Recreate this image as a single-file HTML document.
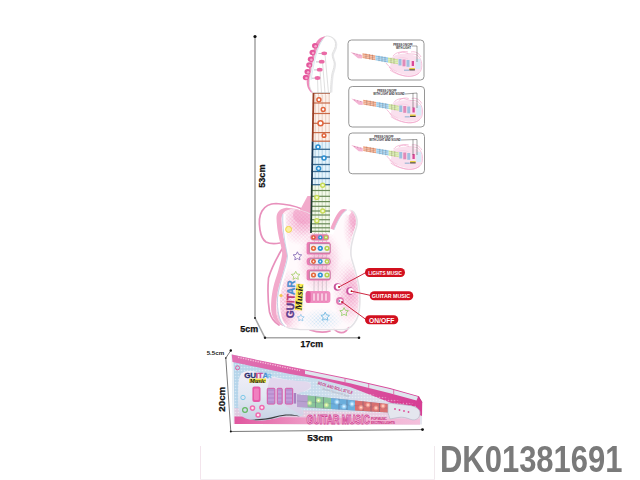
<!DOCTYPE html>
<html><head><meta charset="utf-8">
<style>
html,body{margin:0;padding:0;background:#fff;}
body{width:640px;height:480px;overflow:hidden;position:relative;font-family:"Liberation Sans",sans-serif;}
svg{position:absolute;left:0;top:0;}
.dk{position:absolute;left:440px;top:440px;font-family:"Liberation Sans",sans-serif;font-weight:bold;font-size:36px;color:#7a7a7a;letter-spacing:0px;line-height:40px;white-space:nowrap;transform-origin:0 0;transform:scaleX(0.86);}
</style></head>
<body>
<svg width="640" height="480" viewBox="0 0 640 480">
<defs>
  <pattern id="dots" width="3" height="3" patternUnits="userSpaceOnUse">
    <circle cx="1.5" cy="1.5" r="0.9" fill="#f2a9cc"/>
  </pattern>
  <linearGradient id="neckg" x1="0" y1="0" x2="0" y2="1">
    <stop offset="0" stop-color="#e8825c"/>
    <stop offset="0.36" stop-color="#e8825c"/>
    <stop offset="0.40" stop-color="#6fb4e6"/>
    <stop offset="0.62" stop-color="#6fb4e6"/>
    <stop offset="0.70" stop-color="#b8d87a"/>
    <stop offset="1" stop-color="#c9e07a"/>
  </linearGradient>
  <radialGradient id="rg1" cx="0.5" cy="0.5" r="0.5">
    <stop offset="0" stop-color="#fff" stop-opacity="1"/>
    <stop offset="1" stop-color="#fff" stop-opacity="0"/>
  </radialGradient>
</defs>

<!-- dimension lines main guitar -->
<g stroke="#a8a8a8" stroke-width="1.6" fill="none">
  <line x1="255" y1="37" x2="255" y2="318"/>
  <line x1="255" y1="318" x2="265" y2="337.8"/>
  <line x1="265" y1="337.8" x2="359" y2="337.8"/>
</g>
<circle cx="255" cy="36.5" r="1.6" fill="#111"/>
<circle cx="359" cy="337.8" r="1.3" fill="#111"/>
<circle cx="255" cy="318" r="1" fill="#222"/>
<circle cx="265" cy="337.8" r="1.2" fill="#222"/>
<text x="0" y="0" transform="translate(265.3,187.8) rotate(-90)" font-family="Liberation Sans" font-weight="bold" font-size="8.6" fill="#111" stroke="#111" stroke-width="0.25" textLength="23.4" lengthAdjust="spacingAndGlyphs">53cm</text>
<text x="240.3" y="332.3" font-family="Liberation Sans" font-weight="bold" font-size="8.4" fill="#111" stroke="#111" stroke-width="0.25" textLength="17.9" lengthAdjust="spacingAndGlyphs">5cm</text>
<text x="300.5" y="347.3" font-family="Liberation Sans" font-weight="bold" font-size="8.2" fill="#111" stroke="#111" stroke-width="0.25" textLength="22.6" lengthAdjust="spacingAndGlyphs">17cm</text>

<!-- strap loop -->
<g stroke="#e890bc" stroke-width="1.7" fill="none" stroke-linecap="round" stroke-linejoin="round">
<path d="M302,209 C295,206 285,204 276,203.5 C270,203.5 265,206 262,211 C259,216 259,224 260,230 C261,236 263,240 266,242 C270,244 275,244 280,243"/>
<path d="M282,249 C278,256 272,266 268.5,278 C267.5,290 268,302 269.5,312 C271,318 274,322 279,325"/>
<path d="M310,330 C316,332 324,333 330,331"/>
<path d="M334,329 C338,333 342,334 346,331 C348,329 349,327 348,324"/>
</g>
<!-- body side band (pink) -->
<defs>
<path id="faceShape" d="M310.0,214.0 C308.8,213.5 305.3,211.7 303.0,211.0 C300.7,210.3 298.1,210.1 296.0,209.8 C293.9,209.5 292.1,209.1 290.3,209.4 C288.5,209.7 286.4,210.2 285.0,211.5 C283.6,212.8 282.2,214.4 281.7,217.0 C281.2,219.6 281.7,223.7 282.0,227.0 C282.3,230.3 282.8,233.2 283.5,237.0 C284.2,240.8 285.9,246.5 286.5,250.0 C287.1,253.5 287.4,254.2 286.8,258.0 C286.2,261.8 284.4,268.0 283.0,273.0 C281.6,278.0 279.6,283.2 278.5,288.0 C277.4,292.8 276.6,297.7 276.3,302.0 C276.0,306.3 275.9,310.7 276.5,314.0 C277.1,317.3 278.2,319.8 280.0,322.0 C281.8,324.2 283.7,325.9 287.0,327.0 C290.3,328.1 297.8,328.4 300.0,328.7 L340.0,328.7 C341.2,328.6 344.8,329.0 347.0,328.0 C349.2,327.0 351.4,324.7 353.0,322.5 C354.6,320.3 355.9,318.2 356.8,315.0 C357.7,311.8 358.5,307.9 358.6,303.0 C358.8,298.1 358.6,291.3 357.7,285.4 C356.8,279.5 354.6,272.6 353.3,267.7 C352.0,262.8 350.6,259.6 350.0,256.0 C349.4,252.4 349.6,249.5 350.0,246.0 C350.4,242.5 351.6,238.5 352.5,235.0 C353.4,231.5 355.0,228.0 355.5,225.0 C356.0,222.0 356.0,219.4 355.3,217.0 C354.6,214.6 353.1,211.6 351.5,210.5 C349.9,209.4 347.9,209.8 346.0,210.5 C344.1,211.2 341.8,212.8 340.0,214.5 C338.2,216.2 336.5,218.9 335.0,221.0 C333.5,223.1 331.7,226.0 331.0,227.0 L310,227 Z"/>
<clipPath id="faceclip"><use href="#faceShape"/></clipPath>
<pattern id="pd2" width="2.6" height="2.6" patternUnits="userSpaceOnUse" patternTransform="rotate(45)">
  <circle cx="1.3" cy="1.3" r="1.05" fill="#f09ac4"/>
</pattern>
<pattern id="bd2" width="2.6" height="2.6" patternUnits="userSpaceOnUse" patternTransform="rotate(45)">
  <circle cx="1.3" cy="1.3" r="0.9" fill="#a8d4f0"/>
</pattern>
<mask id="mPink" maskUnits="userSpaceOnUse" x="260" y="190" width="120" height="150">
  <ellipse cx="302" cy="222" rx="24" ry="24" fill="url(#rg1)"/>
  <ellipse cx="355" cy="228" rx="12" ry="26" fill="url(#rg1)"/>
  <ellipse cx="350" cy="292" rx="18" ry="34" fill="url(#rg1)"/>
  <ellipse cx="288" cy="302" rx="18" ry="34" fill="url(#rg1)"/>
  <ellipse cx="320" cy="262" rx="24" ry="34" fill="url(#rg1)" opacity="0.7"/>
</mask>
<mask id="mBlue" maskUnits="userSpaceOnUse" x="260" y="190" width="120" height="150">
  <ellipse cx="322" cy="320" rx="22" ry="12" fill="url(#rg1)"/>
</mask>
<mask id="mTint" maskUnits="userSpaceOnUse" x="260" y="190" width="120" height="150">
  <ellipse cx="306" cy="218" rx="20" ry="18" fill="url(#rg1)"/>
  <ellipse cx="305" cy="215" rx="12" ry="9" fill="#fff"/>
  <ellipse cx="355" cy="222" rx="8" ry="16" fill="url(#rg1)"/>
  <ellipse cx="354" cy="218" rx="5" ry="8" fill="#fff" opacity="0.6"/>
  <ellipse cx="352" cy="292" rx="12" ry="26" fill="url(#rg1)" opacity="0.7"/>
  <ellipse cx="282" cy="320" rx="12" ry="14" fill="url(#rg1)"/>
  <ellipse cx="320" cy="262" rx="20" ry="32" fill="url(#rg1)" opacity="0.7"/>
</mask>
</defs>
<clipPath id="leftclip"><rect x="250" y="190" width="61" height="150"/></clipPath>
<use href="#faceShape" transform="translate(-5,-1.5)" fill="#f2aacb" clip-path="url(#leftclip)"/>
<path d="M300,210 L307.5,196 L311,196 L311,216 Z" fill="#f2aacb"/>

<!-- body front (white) -->
<use href="#faceShape" transform="translate(1.2,0.8)" fill="none" stroke="#e4e2e6" stroke-width="1.6"/>
<use href="#faceShape" fill="#fffafc"/>
<g clip-path="url(#faceclip)">
  <rect x="270" y="200" width="100" height="140" fill="#f6bcd8" mask="url(#mTint)"/>
  <rect x="270" y="200" width="100" height="140" fill="url(#pd2)" mask="url(#mPink)"/>
  <rect x="270" y="200" width="100" height="140" fill="url(#bd2)" mask="url(#mBlue)"/>
</g>
<path d="M284.5,214 C283.5,230 287.5,248 289,256 C288.5,266 280.5,282 279,298 C278.5,310 280.5,322 286.5,326.5" stroke="#ffffff" stroke-width="2.2" fill="none" clip-path="url(#faceclip)"/>
<path d="M282.8,214 C282,230 286,248 287.5,256 C287,266 279,282 277.5,298 C277,310 279,322 285,326.5" stroke="#c0d4e6" stroke-width="0.9" fill="none"/>
<path d="M331,234 C334,226 338,218 342,214 C345,211.5 348,212 350,214" stroke="#ffffff" stroke-width="4" fill="none" clip-path="url(#faceclip)"/>
<path d="M330.3,228.5 C333,222 336.5,213.5 341,209.8 C343,208.8 345,209 347,209.8 C343.5,212 340.5,216 338,221 C336.5,224 335,227 334,230 Z" fill="#f2a6c8"/>
<path d="M334,230 C335,227 336.5,224 338,221 C340.5,216 343.5,212 347,209.8" stroke="#c8dce8" stroke-width="0.8" fill="none"/>
<!-- decorations -->
<g fill="none" stroke-width="0.9" stroke-linejoin="round">
  <circle cx="288.6" cy="229.4" r="3" fill="#fbf0a0" stroke="#f0d448" stroke-width="1"/>
  <path id="star" d="M0,-4.5 L1.3,-1.8 L4.3,-1.4 L2.1,0.7 L2.6,3.6 L0,2.2 L-2.6,3.6 L-2.1,0.7 L-4.3,-1.4 L-1.3,-1.8 Z" transform="translate(297.4,256.3)"/>
  <use href="#star" transform="translate(-1.7,19.5)" stroke="#a8d070"/>
  <use href="#star" stroke="#8a70b8"/>
  <use href="#star" transform="translate(27.8,60.4)" stroke="#70b8e0"/>
  <use href="#star" transform="translate(46.7,55.8)" stroke="#98d070"/>
  <use href="#star" transform="translate(300.8,318) scale(0.8) translate(-297.4,-256.3)" stroke="#80c0e8"/>
</g>
<circle cx="281" cy="295.5" r="1.6" fill="#f4c850"/>
<!-- GUITAR Music text -->
<text transform="translate(293.8,318.3) rotate(-88)" font-family="Liberation Sans" font-weight="bold" font-size="11" stroke-width="0.35" textLength="38" lengthAdjust="spacingAndGlyphs"><tspan fill="#5a3a8c" stroke="#5a3a8c">GU</tspan><tspan fill="#c23c72" stroke="#c23c72">IT</tspan><tspan fill="#4c8ccc" stroke="#4c8ccc">AR</tspan></text>
<g transform="translate(301.8,310.5) rotate(-87)">
  <path d="M0,-7.2 L26.5,-6.8 L26.5,0.3 L0,0.3 Z" fill="#f6ea40" opacity="0.9"/>
  <text x="0.3" y="-0.4" font-family="Liberation Serif" font-weight="bold" font-style="italic" font-size="9.5" fill="#1a1a1a" textLength="26" lengthAdjust="spacingAndGlyphs">Music</text>
</g>

<!-- neck -->
<path d="M313,92.5 L330,92.5 L330,141.5 L312.13,141.5 Z" fill="#fdf1ea"/>
<path d="M312.13,141.5 L330,141.5 L330,185 L311.35,185 Z" fill="#e6f4fc"/>
<path d="M311.35,185 L330,185 L330,233 L310.5,233 Z" fill="#f4f9ea"/>
<g stroke="#e2c4b8" stroke-width="0.8">
<line x1="315.2" y1="92.5" x2="315.2" y2="141.5"/>
<line x1="318.7" y1="92.5" x2="318.7" y2="141.5"/>
<line x1="322.2" y1="92.5" x2="322.2" y2="141.5"/>
<line x1="325.7" y1="92.5" x2="325.7" y2="141.5"/>
<line x1="329.2" y1="92.5" x2="329.2" y2="141.5"/>
</g>
<g stroke="#a8cce0" stroke-width="0.8">
<line x1="315.2" y1="141.5" x2="315.2" y2="185"/>
<line x1="318.7" y1="141.5" x2="318.7" y2="185"/>
<line x1="322.2" y1="141.5" x2="322.2" y2="185"/>
<line x1="325.7" y1="141.5" x2="325.7" y2="185"/>
<line x1="329.2" y1="141.5" x2="329.2" y2="185"/>
</g>
<g stroke="#c0d0b0" stroke-width="0.8">
<line x1="315.2" y1="185" x2="315.2" y2="233"/>
<line x1="318.7" y1="185" x2="318.7" y2="233"/>
<line x1="322.2" y1="185" x2="322.2" y2="233"/>
<line x1="325.7" y1="185" x2="325.7" y2="233"/>
<line x1="329.2" y1="185" x2="329.2" y2="233"/>
</g>
<g stroke="#c86a48" stroke-width="1.2">
<line x1="312.99" y1="92.8" x2="330" y2="92.8"/>
<line x1="312.81" y1="103" x2="330" y2="103"/>
<line x1="312.63" y1="113.5" x2="330" y2="113.5"/>
<line x1="312.45" y1="123.3" x2="330" y2="123.3"/>
<line x1="312.29" y1="132.6" x2="330" y2="132.6"/>
<line x1="312.13" y1="141.2" x2="330" y2="141.2"/>
</g>
<g stroke="#3a6a90" stroke-width="1.3">
<line x1="311.99" y1="149.3" x2="330" y2="149.3"/>
<line x1="311.85" y1="157" x2="330" y2="157"/>
<line x1="311.72" y1="164.5" x2="330" y2="164.5"/>
<line x1="311.59" y1="171.5" x2="330" y2="171.5"/>
<line x1="311.47" y1="178.5" x2="330" y2="178.5"/>
<line x1="311.36" y1="184.7" x2="330" y2="184.7"/>
</g>
<g stroke="#6a8a58" stroke-width="1.2">
<line x1="311.26" y1="190.5" x2="330" y2="190.5"/>
<line x1="311.15" y1="196.3" x2="330" y2="196.3"/>
<line x1="311.06" y1="201.6" x2="330" y2="201.6"/>
<line x1="310.98" y1="206.3" x2="330" y2="206.3"/>
<line x1="310.89" y1="211" x2="330" y2="211"/>
<line x1="310.82" y1="215" x2="330" y2="215"/>
<line x1="310.74" y1="219.7" x2="330" y2="219.7"/>
<line x1="310.66" y1="223.8" x2="330" y2="223.8"/>
<line x1="310.59" y1="227.8" x2="330" y2="227.8"/>
<line x1="310.53" y1="231.3" x2="330" y2="231.3"/>
</g>
<circle cx="318.9" cy="99.7" r="2.0" fill="#fff" stroke="#e0643c" stroke-width="1.5"/>
<circle cx="323.2" cy="109.5" r="1.9" fill="#fff" stroke="#e0643c" stroke-width="1.5"/>
<circle cx="320.5" cy="123.2" r="2.5" fill="#fff" stroke="#e0643c" stroke-width="1.5"/>
<circle cx="324" cy="135.5" r="1.8" fill="#fff" stroke="#e0643c" stroke-width="1.5"/>
<circle cx="318" cy="147" r="2.0" fill="#e8f6ff" stroke="#2a8ed0" stroke-width="1.5"/>
<circle cx="324" cy="158" r="2.0" fill="#e8f6ff" stroke="#2a8ed0" stroke-width="1.5"/>
<circle cx="318.6" cy="168.6" r="2.0" fill="#e8f6ff" stroke="#2a8ed0" stroke-width="1.5"/>
<circle cx="322.7" cy="185.3" r="2" fill="#f4fad0" stroke="#c8dc58" stroke-width="1.4"/>
<circle cx="316.8" cy="197.5" r="2" fill="#f4fad0" stroke="#c8dc58" stroke-width="1.4"/>
<circle cx="322.7" cy="211" r="2" fill="#f4fad0" stroke="#c8dc58" stroke-width="1.4"/>
<circle cx="316.8" cy="220.8" r="2" fill="#f4fad0" stroke="#c8dc58" stroke-width="1.4"/>
<path d="M313.5,92.5 L312.63,141.5" stroke="#9a4026" stroke-width="1.8"/>
<path d="M312.63,141.5 L311.85,185" stroke="#1a3a58" stroke-width="1.8"/>
<path d="M311.85,185 L311,233" stroke="#203a30" stroke-width="1.8"/>
<path d="M313,92.8 L330,92.8" stroke="#8a3a20" stroke-width="1.3"/>
<g fill="#fff"><circle cx="316" cy="94.6" r="0.6"/><circle cx="319.5" cy="94.6" r="0.6"/><circle cx="323" cy="94.6" r="0.6"/><circle cx="326.5" cy="94.6" r="0.6"/></g>

<!-- headstock -->
<path d="M324,36.5 C318,38 316,42 314,48 C311,58 309,68 307,78 C306,84 307.5,89 311,92.5 L313,92.5 C309.5,89 308.8,84 309.8,78 C313,60 317,44 325.8,36.1 Z" fill="#ee8cbc"/>
<path d="M326.8,36.9 C331,36.3 336,38.8 336.5,44.3 C337,48.8 334,51.8 333.2,54.8 C332.8,58.8 335.5,61.8 335.3,64.8 C335,69.8 333,72.8 332.8,75.8 C332.3,80.8 331.6,84.8 331.6,92.5" fill="none" stroke="#e8e8ea" stroke-width="1.6"/>
<path d="M325.8,36.1 C330,35.5 335,38 335.5,43.5 C336,48 333,51 332.2,54 C331.8,58 334.5,61 334.3,64 C334,69 332,72 331.8,75 C331.3,80 330.6,84 330.6,92.5 L313,92.5 C309.5,89 308.8,84 309.8,78 C313,60 317,44 325.8,36.1 Z" fill="#fff" stroke="#dcdcdc" stroke-width="0.9"/>
<path d="M311,80 C314,62 317,47 323,39" stroke="#cfe0ec" stroke-width="0.7" fill="none"/>
<g stroke="#b8b8b8" stroke-width="0.45" fill="none">
  <path d="M325,54 L328.5,93"/><path d="M322.5,62 L325,93"/><path d="M320,70 L321.5,93"/><path d="M317.5,78 L318,93"/>
</g>
<g fill="#e4579c">
  <ellipse cx="315" cy="45.8" rx="3" ry="2.7"/><ellipse cx="312.5" cy="52.5" rx="3" ry="2.7"/><ellipse cx="310.8" cy="59.2" rx="3" ry="2.7"/>
  <ellipse cx="309.2" cy="65" rx="3" ry="2.7"/><ellipse cx="307.5" cy="71.7" rx="3" ry="2.7"/><ellipse cx="305.8" cy="77.5" rx="3" ry="2.7"/>
</g>
<g fill="#f5a6cc">
  <circle cx="315.6" cy="46.3" r="1.3"/><circle cx="313.1" cy="53" r="1.3"/><circle cx="311.4" cy="59.7" r="1.3"/>
  <circle cx="309.8" cy="65.5" r="1.3"/><circle cx="308.1" cy="72.2" r="1.3"/><circle cx="306.4" cy="78" r="1.3"/>
</g>
<g fill="#ea6aa6">
  <ellipse cx="324.2" cy="53.3" rx="2.9" ry="1.9"/><ellipse cx="321.7" cy="61.7" rx="2.9" ry="1.9"/>
  <ellipse cx="319.7" cy="69.7" rx="2.9" ry="1.9"/><ellipse cx="317.5" cy="78" rx="2.9" ry="1.9"/>
</g>
<g stroke="#9a9aa8" stroke-width="0.6">
  <line x1="318.5" y1="53.5" x2="321.5" y2="53.5"/><line x1="316" y1="61.9" x2="319" y2="61.9"/>
  <line x1="314" y1="69.9" x2="317" y2="69.9"/><line x1="311.8" y1="78.2" x2="314.8" y2="78.2"/>
</g>

<!-- strings -->
<g stroke="#b0a8b0" stroke-width="0.5">
  <line x1="314.5" y1="233" x2="314" y2="292"/><line x1="318.5" y1="233" x2="318.2" y2="292"/>
  <line x1="322.5" y1="233" x2="322.3" y2="292"/><line x1="326.3" y1="233" x2="326.3" y2="292"/>
</g>
<!-- pickups -->
<g>
  <rect x="310.6" y="234.6" width="18.3" height="5.7" rx="2.8" fill="#ecd6e0" stroke="#d8a0bc" stroke-width="0.6"/>
  <rect x="306.6" y="242" width="24" height="12.6" rx="2.2" fill="#ea7cb4"/>
  <rect x="309.4" y="243.7" width="20.6" height="9.2" rx="1" fill="#f4eef2" stroke="#a86a8a" stroke-width="0.7"/>
  <rect x="306.6" y="257.5" width="24" height="8" rx="3.5" fill="#ea7cb4"/>
  <rect x="309.4" y="258.6" width="20.6" height="5.8" rx="2.5" fill="#f4eef2" stroke="#a86a8a" stroke-width="0.7"/>
  <rect x="306.6" y="269.5" width="24" height="11" rx="2.2" fill="#ea7cb4"/>
  <rect x="309.4" y="271" width="20.6" height="8" rx="1" fill="#f4eef2" stroke="#a86a8a" stroke-width="0.7"/>
</g>
<g>
  <rect x="310.6" y="234.6" width="18.3" height="5.7" rx="2.8" fill="#e27aa8"/>
  <circle cx="313.5" cy="237.4" r="2.2" fill="#e05a34"/><circle cx="320.3" cy="237.4" r="2.2" fill="#2a92d4"/><circle cx="326" cy="237.4" r="2.2" fill="#b4d050"/>
  <circle cx="313.5" cy="248.3" r="2.6" fill="#e46a3c"/><circle cx="320.3" cy="248.3" r="2.6" fill="#2a92d4"/><circle cx="327" cy="248.3" r="2.6" fill="#b4d050"/>
  <circle cx="313.5" cy="261.5" r="2.4" fill="#e05a34"/><circle cx="320.3" cy="261.5" r="2.4" fill="#2a92d4"/><circle cx="327" cy="261.5" r="2.4" fill="#b4d050"/>
  <circle cx="313.5" cy="275" r="2.6" fill="#e46a3c"/><circle cx="320.3" cy="275" r="2.6" fill="#2a92d4"/><circle cx="327" cy="275" r="2.6" fill="#b4d050"/>
</g>
<g fill="#fff" opacity="0.9">
  <circle cx="313.5" cy="237.4" r="0.8"/><circle cx="320.3" cy="237.4" r="0.8"/><circle cx="326" cy="237.4" r="0.8"/>
  <circle cx="313.5" cy="248.3" r="1"/><circle cx="320.3" cy="248.3" r="1"/><circle cx="327" cy="248.3" r="1"/>
  <circle cx="313.5" cy="261.5" r="0.9"/><circle cx="320.3" cy="261.5" r="0.9"/><circle cx="327" cy="261.5" r="0.9"/>
  <circle cx="313.5" cy="275" r="1"/><circle cx="320.3" cy="275" r="1"/><circle cx="327" cy="275" r="1"/>
</g>
<!-- bridge -->
<rect x="305.7" y="290.9" width="24.7" height="12" rx="3" fill="#f08cc0"/>
<rect x="305.7" y="290.9" width="5" height="12" rx="2.5" fill="#e0609e"/>
<g fill="#f8c8e0" stroke="#e070a8" stroke-width="0.5">
  <rect x="312.5" y="293" width="3" height="8" rx="1"/><rect x="316.5" y="293" width="3" height="8" rx="1"/>
  <rect x="320.5" y="293" width="3" height="8" rx="1"/><rect x="324.5" y="293" width="3" height="8" rx="1"/>
</g>

<!-- knobs -->
<g>
  <circle cx="337.5" cy="287" r="3.8" fill="#c8509a"/><circle cx="338.5" cy="286.8" r="2.8" fill="#fff"/>
  <circle cx="350" cy="291.1" r="3.8" fill="#c8509a"/><circle cx="351" cy="290.9" r="2.8" fill="#fff"/>
  <circle cx="340" cy="301.1" r="4" fill="#e27ab2"/><circle cx="340.5" cy="301.1" r="2.2" fill="#fff"/><circle cx="339.3" cy="301.1" r="1" fill="#7090b8"/>
  <circle cx="339" cy="287" r="0.9" fill="#b01020"/><circle cx="351.5" cy="291.2" r="0.9" fill="#b01020"/><circle cx="342" cy="302" r="0.9" fill="#b01020"/>
</g>

<!-- label lines -->
<g stroke="#c8102e" stroke-width="0.9">
  <line x1="339" y1="287" x2="366" y2="272.5"/>
  <line x1="351.5" y1="291.2" x2="371" y2="295.5"/>
  <line x1="342" y1="302" x2="366" y2="319.5"/>
</g>
<g fill="#d2101e">
  <rect x="365" y="268" width="40" height="9" rx="4.5"/>
  <rect x="369.7" y="291.3" width="43.6" height="9" rx="4.5"/>
  <rect x="365" y="315.3" width="33.3" height="9" rx="4.5"/>
</g>
<g font-family="Liberation Sans" font-weight="bold" fill="#fff">
  <text x="368.3" y="274.8" font-size="5.4" textLength="33.7" lengthAdjust="spacingAndGlyphs">LIGHTS MUSIC</text>
  <text x="371.7" y="298.2" font-size="5.4" textLength="38.5" lengthAdjust="spacingAndGlyphs">GUITAR MUSIC</text>
  <text x="369" y="322.5" font-size="6.8" textLength="25.4" lengthAdjust="spacingAndGlyphs">ON/OFF</text>
</g>

<!-- small boxes -->
<g fill="#fff" stroke="#8a8a8a" stroke-width="0.9">
  <rect x="348" y="40" width="76" height="40" rx="3.5"/>
  <rect x="348.75" y="86.5" width="75.75" height="40.5" rx="3.5"/>
  <rect x="348.75" y="133" width="75.75" height="40.75" rx="3.5"/>
</g>
<g id="mini">
  <g fill="none" stroke="#f2a6cc" stroke-width="0.7">
    <path d="M393,56 C396,52 402,51 406,53 C410,55 413,53 417,55 C421,58 423,64 421,70 C419,75 412,77 405,76 C399,75 394,73 390,70"/>
    <path d="M395,60 C399,57 404,57 408,59"/>
    <path d="M389,67 C392,71 397,74 403,75.5 C409,77 415,76.5 419,73"/>
    <path d="M386,63 C389,67 393,70 397,71.5"/>
    <path d="M398,54 C401,51.5 405,51 408,52"/>
    <path d="M411,52 C415,51 419,53 421,57"/>
  </g>
  <path d="M392,57 C398,53 406,53 412,55 C418,56 422,60 421.5,67 C421,73 415,76 406,75 C399,74 394,71 390,67 Z" fill="#f8d6e8" opacity="0.75"/>
  <!-- headstock -->
  <path d="M350.5,52 L362,55 L362,58.5 L358,58.3 Z" fill="#f4b4d4"/>
  <g fill="#c080a0"><circle cx="354" cy="53.5" r="0.5"/><circle cx="357" cy="54.3" r="0.5"/><circle cx="360" cy="55.1" r="0.5"/></g>
  <!-- neck -->
  <path d="M362.5,53.3 L375.5,55.5 L375.5,60.3 L362.5,58 Z" fill="#ec9c78"/>
  <path d="M375.5,55.5 L388,57.6 L388,62.6 L375.5,60.3 Z" fill="#8cc6ea"/>
  <path d="M388,57.6 L398,59.3 L398,64.2 L388,62.6 Z" fill="#cce498"/>
  <g stroke="#fff" stroke-width="0.45" opacity="0.9">
    <line x1="362.5" y1="55" x2="398" y2="61"/><line x1="362.5" y1="56.6" x2="398" y2="62.6"/>
  </g>
  <g stroke="#6a5050" stroke-width="0.5" opacity="0.6">
    <line x1="366" y1="53.4" x2="366" y2="58.9"/><line x1="369.5" y1="54" x2="369.5" y2="59.5"/><line x1="372.5" y1="54.5" x2="372.5" y2="60"/>
    <line x1="379" y1="55.6" x2="379" y2="61.3"/><line x1="382" y1="56.1" x2="382" y2="61.9"/><line x1="385" y1="56.6" x2="385" y2="62.4"/>
    <line x1="391" y1="57.6" x2="391" y2="63.4"/><line x1="394" y1="58.1" x2="394" y2="63.9"/>
  </g>
  <!-- pickups -->
  <g>
    <rect x="398.5" y="59" width="3" height="6.5" fill="#9cc0e0"/>
    <rect x="402.5" y="59.5" width="3" height="6.8" fill="#e08ab8"/>
    <rect x="406.5" y="60" width="3" height="6.8" fill="#a0c0e0"/>
    <rect x="411.7" y="61" width="2.3" height="5" fill="#d84a98"/>
  </g>
  <rect x="415.6" y="59" width="4.8" height="10" fill="#d4ecf8" opacity="0.9"/>
  <rect x="409.3" y="68" width="5.6" height="1.6" fill="#e8d040"/>
  <rect x="409.3" y="69.4" width="5.6" height="1" fill="#333"/>
  <rect x="404" y="69.5" width="5" height="1.5" fill="#90b0d0" opacity="0.7"/>
</g>
<use href="#mini" transform="translate(0.75,46.5)"/>
<use href="#mini" transform="translate(0.75,93)"/>
<g font-family="Liberation Sans" font-size="2.6" fill="#333" text-anchor="middle" font-weight="bold">
  <text x="403" y="45.5">PRESS ON/OFF</text>
  <text x="403.5" y="48.8">WITH LIGHT</text>
  <text x="387" y="91.5">PRESS ON/OFF</text>
  <text x="389" y="94.8">WITH LIGHT AND SOUND</text>
  <text x="384" y="137.5">PRESS ON/OFF</text>
  <text x="385" y="140.8">WITH LIGHT AND SOUND</text>
</g>
<g fill="none" stroke="#444" stroke-width="0.5">
  <path d="M412,46 L417,46 L417,62"/>
  <path d="M405,94 L417,93 L417,108 M413,93 L413,108"/>
  <path d="M401,140 L417,139.5 L417,155 M413,139.5 L413,155"/>
</g>

<!-- package box -->
<g>
  <!-- dims -->
  <g stroke="#555" stroke-width="0.8" fill="none">
    <path d="M230.8,350.5 L225.8,358 L230.8,431.5 L422.5,429.6"/>
  </g>
  <circle cx="230.8" cy="350.5" r="1.2" fill="#111"/>
  <circle cx="225.8" cy="358" r="0.8" fill="#111"/>
  <circle cx="230.8" cy="431.5" r="1" fill="#111"/>
  <circle cx="422.5" cy="429.6" r="1.4" fill="#111"/>
  <text x="206.7" y="354.7" font-family="Liberation Sans" font-weight="bold" font-size="5" fill="#222" textLength="17.5" lengthAdjust="spacingAndGlyphs">5.5cm</text>
  <text transform="translate(225,411.7) rotate(-90)" font-family="Liberation Sans" font-weight="bold" font-size="9.4" fill="#111" stroke="#111" stroke-width="0.25" textLength="25" lengthAdjust="spacingAndGlyphs">20cm</text>
  <text x="307.3" y="441" font-family="Liberation Sans" font-weight="bold" font-size="8.9" fill="#111" stroke="#111" stroke-width="0.25" textLength="25.3" lengthAdjust="spacingAndGlyphs">53cm</text>

  <!-- box body -->
  <linearGradient id="pkgpink" x1="0" y1="0" x2="1" y2="0">
    <stop offset="0" stop-color="#e0559e"/>
    <stop offset="0.4" stop-color="#ee9cc6"/>
    <stop offset="1" stop-color="#f4c0dc"/>
  </linearGradient>
  <linearGradient id="pkgfront" x1="0" y1="0" x2="1" y2="0">
    <stop offset="0" stop-color="#b4d4ea"/>
    <stop offset="0.45" stop-color="#c8dcec"/>
    <stop offset="0.75" stop-color="#dcdcea"/>
    <stop offset="1" stop-color="#e4e4ee"/>
  </linearGradient>
  <linearGradient id="gbody" x1="0" y1="0" x2="0" y2="1">
    <stop offset="0" stop-color="#f2eef8"/>
    <stop offset="0.5" stop-color="#e2e8f2"/>
    <stop offset="1" stop-color="#c6d2e4"/>
  </linearGradient>
  <linearGradient id="lidg" x1="0" y1="0" x2="1" y2="0">
    <stop offset="0" stop-color="#e070b2"/>
    <stop offset="0.5" stop-color="#dc5aa4"/>
    <stop offset="1" stop-color="#d63e94"/>
  </linearGradient>
  <path d="M231.7,354.5 L419,396.3 L422.2,402.3 L422,424.5 L233,424 Z" fill="url(#pkgfront)"/>
  <path d="M234,408 L420,414 L420,424.5 L233,424 Z" fill="#f0c4dc" opacity="0.7"/>
  <path d="M233,416.5 L420,419 L420,424.5 L233,424 Z" fill="url(#pkgpink)"/>
  <!-- left edge -->
  <path d="M231.7,354.5 L233.5,355 L234.5,424 L233,424 Z" fill="#eef2f6"/>
  <!-- top lid band -->
  <path d="M231.7,354.5 L290,366.6 L350,378.7 L390,388 L419,396.3 L422.2,402.3 L422,416 L390,402.5 L350,387 L320,379.2 L290,374 L232.5,362 Z" fill="url(#lidg)"/>
  <path d="M238,357.4 L300,370.6" stroke="#f8c0dc" stroke-width="1.3" stroke-dasharray="1.3 1.2"/>
  <!-- window strip on right part of lid -->
  <path d="M305,370.5 L350,379.7 L390,389 L418,396.8 L416.5,400.5 L390,393.2 L350,383.2 L305,374 Z" fill="#dfe6ee"/>
  <g stroke="#e05aa0" stroke-width="0.8"><line x1="345" y1="378.6" x2="345" y2="382.3"/><line x1="368.7" y1="383.8" x2="368.7" y2="387.8"/><line x1="393.7" y1="390" x2="393.7" y2="394.3"/></g>
  <path d="M418.5,397.2 L422.2,402.3" stroke="#c03080" stroke-width="0.6"/>

  <!-- halftone light dots on front -->
  <pattern id="pdots" width="3" height="3" patternUnits="userSpaceOnUse">
    <circle cx="1.5" cy="1.5" r="0.8" fill="#ffffff" opacity="0.7"/>
  </pattern>
  <path d="M234,362 L418,405 L418,416 L234,416 Z" fill="url(#pdots)" opacity="0.6"/>

  <!-- guitar body on box -->
  <path id="pkgBody" d="M244.0,372.0 C246.0,371.2 249.0,370.8 252.0,371.0 C255.0,371.2 258.3,372.5 262.0,373.5 C265.7,374.5 270.0,376.0 274.0,377.0 C278.0,378.0 282.2,378.8 286.0,379.5 C289.8,380.2 294.0,380.7 297.0,381.0 C300.0,381.3 302.0,381.3 304.0,381.5 C306.0,381.7 307.8,381.7 309.0,382.3 C310.2,382.9 310.8,383.9 311.0,385.0 C311.2,386.1 310.8,388.0 310.0,389.0 C309.2,390.0 307.7,390.4 306.0,391.0 C304.3,391.6 301.3,391.8 300.0,392.5 C298.7,393.2 298.3,393.2 298.0,395.0 C297.7,396.8 297.7,401.0 298.0,403.0 C298.3,405.0 299.2,405.7 300.0,407.0 C300.8,408.3 302.5,409.7 303.0,411.0 C303.5,412.3 303.6,414.2 303.0,415.0 C302.4,415.8 301.3,415.9 299.5,416.0 C297.7,416.1 294.6,415.5 292.0,415.5 C289.4,415.5 286.8,415.5 284.0,416.0 C281.2,416.5 278.7,417.8 275.0,418.5 C271.3,419.2 266.2,420.3 262.0,420.5 C257.8,420.7 253.3,420.2 250.0,419.5 C246.7,418.8 243.9,417.9 242.0,416.0 C240.1,414.1 239.1,411.3 238.5,408.0 C237.9,404.7 238.2,400.0 238.2,396.0 C238.2,392.0 238.2,387.3 238.5,384.0 C238.8,380.7 239.1,378.0 240.0,376.0 C240.9,374.0 242.0,372.8 244.0,372.0 Z" fill="url(#gbody)"/>
  <use href="#pkgBody" fill="url(#pdots)" opacity="0.3"/>
  <path d="M270,377 C282,379.5 296,381 304,381.5 C308,382 311,383 311,386 C310,389 306,391 300,392.5 C298,395 298,403 300,407 C302,410 303,413 303,415 C296,413 284,404 266,394 Z" fill="#dccbe8" opacity="0.6"/>
  <path d="M300,416.5 C292,415 284,415 276,417.5 C268,420 258,420.8 250,419.8 C258,419.5 268,418.5 276,416.3 C285,414 293,414 300,416.5 Z" fill="#222" opacity="0.85"/>
  <!-- pickups -->
  <rect x="252.4" y="386.5" width="8.1" height="15.5" rx="2" fill="#e65aa8"/>
  <rect x="254" y="388.5" width="4.9" height="11.5" rx="1" fill="#f080c0"/>
  <g fill="#b890d0" stroke="#d85aa8" stroke-width="1">
    <rect x="267.3" y="388.3" width="7.6" height="15.8" rx="1"/>
    <rect x="277.2" y="388.3" width="5" height="15.8" rx="1"/>
    <rect x="285.3" y="388.3" width="7.4" height="15.8" rx="1"/>
  </g>
  <g stroke="#e0c0f0" stroke-width="0.5">
    <line x1="268" y1="392" x2="274.2" y2="392"/><line x1="268" y1="396" x2="274.2" y2="396"/><line x1="268" y1="400" x2="274.2" y2="400"/>
    <line x1="278" y1="392" x2="281.4" y2="392"/><line x1="278" y1="396" x2="281.4" y2="396"/><line x1="278" y1="400" x2="281.4" y2="400"/>
    <line x1="286" y1="392" x2="292" y2="392"/><line x1="286" y1="396" x2="292" y2="396"/><line x1="286" y1="400" x2="292" y2="400"/>
  </g>
  <rect x="293.7" y="393" width="2.5" height="10.6" fill="#a880c0"/>
  <g fill="#ef6cb0">
    <circle cx="252.5" cy="408.1" r="2.8"/><circle cx="261.9" cy="407.5" r="2.8"/><circle cx="258.1" cy="415" r="2.8"/>
  </g>
  <g fill="#fde2f0"><circle cx="252.5" cy="408.1" r="1.3"/><circle cx="261.9" cy="407.5" r="1.3"/><circle cx="258.1" cy="415" r="1.3"/></g>
  <circle cx="245" cy="410" r="2.4" fill="none" stroke="#62b860" stroke-width="1.2"/>
  <circle cx="243" cy="397.5" r="2.2" fill="none" stroke="#7cc8e8" stroke-width="1"/>
  <circle cx="237.5" cy="367.8" r="2" fill="none" stroke="#e060a0" stroke-width="1"/>
  <!-- GUITAR Music logo -->
  <g font-family="Liberation Sans" font-weight="bold" font-size="8" stroke-width="0.3">
    <text x="244.2" y="378.4" fill="#2a2a6a" stroke="#2a2a6a">G</text>
    <text x="250.3" y="378.4" fill="#2a3a7a" stroke="#2a3a7a">U</text>
    <text x="255.8" y="378.4" fill="#d03a6a" stroke="#d03a6a">I</text>
    <text x="258" y="378.4" fill="#c84a9a" stroke="#c84a9a">T</text>
    <text x="262.5" y="378.4" fill="#4a90d0" stroke="#4a90d0">A</text>
    <text x="267" y="378.4" fill="#80c0e8" stroke="#80c0e8" font-size="6">R</text>
  </g>
  <rect x="249" y="378.6" width="17" height="4" fill="#f0e040"/>
  <text x="249.5" y="382.6" font-family="Liberation Serif" font-weight="bold" font-style="italic" font-size="5.2" fill="#111" textLength="16" lengthAdjust="spacingAndGlyphs">Music</text>

  <!-- neck LED -->
  <radialGradient id="glowG"><stop offset="0" stop-color="#f8fff0"/><stop offset="0.35" stop-color="#d8f0a0"/><stop offset="1" stop-color="#d8f0a0" stop-opacity="0"/></radialGradient>
  <radialGradient id="glowB"><stop offset="0" stop-color="#ffffff"/><stop offset="0.35" stop-color="#b0e0ff"/><stop offset="1" stop-color="#b0e0ff" stop-opacity="0"/></radialGradient>
  <radialGradient id="glowR"><stop offset="0" stop-color="#fff4f0"/><stop offset="0.35" stop-color="#ffb0a0"/><stop offset="1" stop-color="#ffb0a0" stop-opacity="0"/></radialGradient>
  <path d="M297,394.5 L388,404 L388,412.5 L297,407 Z" fill="#a898b8"/>
  <path d="M297,394.5 L307.7,395.6 L307.7,407 L297,407 Z" fill="#b8a0d0"/>
  <path d="M307.7,395.6 L331,398 L331,409 L307.7,407 Z" fill="#88c49a"/>
  <path d="M331,398 L355,400.5 L355,410.5 L331,409 Z" fill="#6aaedc"/>
  <path d="M355,400.5 L388,404 L388,412.5 L355,410.5 Z" fill="#d87070"/>
  <g stroke="#60607a" stroke-width="0.6" opacity="0.8">
    <line x1="315.5" y1="396.4" x2="315.5" y2="407.5"/><line x1="323.5" y1="397.2" x2="323.5" y2="408.2"/>
    <line x1="339" y1="398.8" x2="339" y2="409.5"/><line x1="347" y1="399.7" x2="347" y2="410"/>
    <line x1="363" y1="401.3" x2="363" y2="411"/><line x1="371" y1="402.2" x2="371" y2="411.5"/><line x1="379.5" y1="403" x2="379.5" y2="412"/>
    <line x1="297" y1="401" x2="388" y2="408.2" opacity="0.4"/>
  </g>
  <g>
    <circle cx="309.6" cy="403" r="3" fill="url(#glowG)"/><circle cx="318.5" cy="400.5" r="3" fill="url(#glowG)"/><circle cx="326.4" cy="405" r="3" fill="url(#glowG)"/>
    <circle cx="337" cy="402" r="3.2" fill="url(#glowB)"/><circle cx="344" cy="406.5" r="3.2" fill="url(#glowB)"/><circle cx="352" cy="404" r="3.2" fill="url(#glowB)"/>
    <circle cx="361" cy="407.5" r="3" fill="url(#glowR)"/><circle cx="368" cy="405" r="3" fill="url(#glowR)"/><circle cx="376" cy="408" r="3" fill="url(#glowR)"/><circle cx="383" cy="406" r="3" fill="url(#glowR)"/>
  </g>
  <!-- headstock right -->
  <path d="M388,403 L410,405.5 C416,406.5 420,409 420,413 C420,418 416,421 411,419.5 C407,418 403,416.5 398,417.5 L390,419 L388,413 Z" fill="#e4e6ee" stroke="#b8bccc" stroke-width="0.7"/>
  <g fill="#e0509a">
    <circle cx="395" cy="409" r="0.9"/><circle cx="399.5" cy="410" r="0.9"/><circle cx="404" cy="411" r="0.9"/><circle cx="408.5" cy="412" r="0.9"/>
  </g>
  <g fill="#d83a8c">
    <circle cx="397" cy="401.5" r="0.9"/><circle cx="401" cy="402.5" r="0.9"/><circle cx="405" cy="403.4" r="0.9"/><circle cx="409" cy="404.3" r="0.9"/><circle cx="413" cy="405.2" r="0.9"/><circle cx="417" cy="406.2" r="0.9"/>
  </g>

  <!-- ROCK AND ROLL STYLE -->
  <text transform="translate(317.5,384.5) rotate(16)" font-family="Liberation Sans" font-weight="bold" font-size="4.6" fill="#c8307e" textLength="36" lengthAdjust="spacingAndGlyphs">ROCK AND ROLL STYLE</text>
  <text transform="translate(322,389.5) rotate(16)" font-family="Liberation Sans" font-size="2.8" fill="#a0a0b0" textLength="28" lengthAdjust="spacingAndGlyphs">ORIGINAL ROCK GUITAR MUSIC</text>
  <!-- GUITAR MUSIC -->
  <text x="306.6" y="424" font-family="Liberation Sans" font-weight="bold" font-size="12.5" fill="#f8e4f0" stroke="#d44896" stroke-width="0.9" textLength="63.3" lengthAdjust="spacingAndGlyphs">GUITAR MUSIC</text>
  <text x="371" y="419.5" font-family="Liberation Sans" font-weight="bold" font-size="3.3" fill="#c8307e" textLength="16">POP MUSIC</text>
  <text x="371" y="423.5" font-family="Liberation Sans" font-weight="bold" font-size="3.3" fill="#c8307e" textLength="24">EXCITING LIGHTS</text>
</g>
<g stroke-width="1" fill="none">
  <line x1="200.5" y1="446" x2="200.5" y2="480" stroke="#f3e4ec"/>
  <line x1="434.5" y1="446" x2="434.5" y2="480" stroke="#f0e8ec"/>
  <line x1="200" y1="479.5" x2="435" y2="479.5" stroke="#f4eef2"/>
</g>
</svg>
<div class="dk">DK01381691</div>
</body></html>
